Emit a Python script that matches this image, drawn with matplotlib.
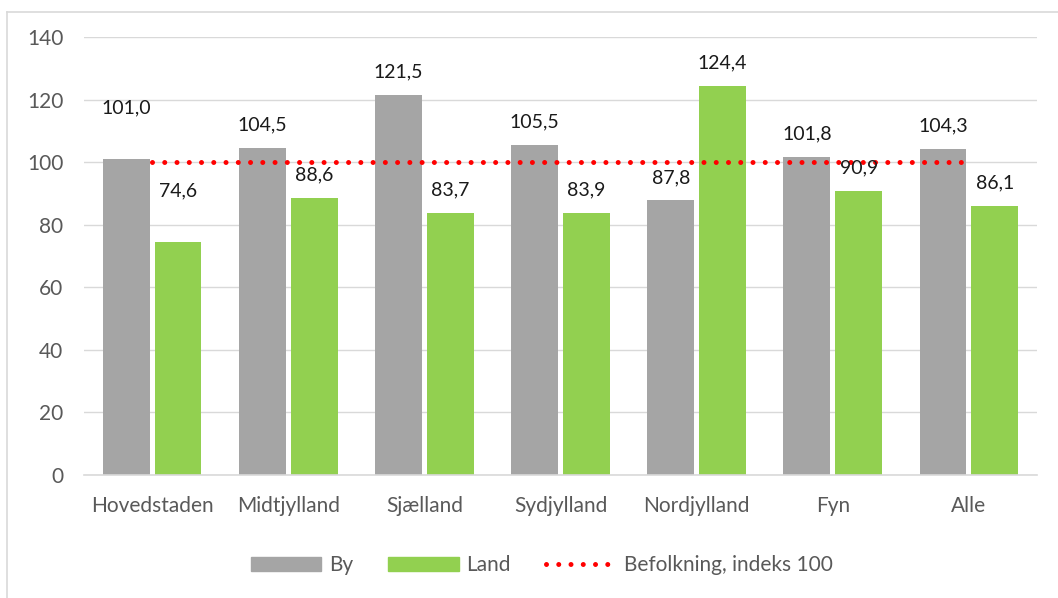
import matplotlib
matplotlib.use("Agg")
import matplotlib.pyplot as plt
from matplotlib.lines import Line2D
import numpy as np

categories = ["Hovedstaden", "Midtjylland", "Sjælland", "Sydjylland", "Nordjylland", "Fyn", "Alle"]
by_values = [101.0, 104.5, 121.5, 105.5, 87.8, 101.8, 104.3]
land_values = [74.6, 88.6, 83.7, 83.9, 124.4, 90.9, 86.1]
befolkning = [100] * len(categories)
yticks = [0, 20, 40, 60, 80, 100, 120, 140]

plt.rcParams['font.family'] = ['Lato', 'DejaVu Sans']

W, H = 1058, 598
fig = plt.figure(figsize=(W / 100, H / 100), dpi=100)
ax = fig.add_axes([84 / W, 1 - 475 / H, (1037 - 84) / W, (475 - 37) / H])

x = np.arange(len(categories))
bw = 0.345
gap = 0.018
gray = "#a5a5a5"
green = "#92d050"
dotstyle = (0, (0.001, 2.45))
ax.bar(x - bw / 2 - gap, by_values, bw, color=gray, label="By", zorder=2)
ax.bar(x + bw / 2 + gap, land_values, bw, color=green, label="Land", zorder=2)
ax.plot(x, befolkning, color="#ff0000", linestyle=dotstyle, linewidth=3.6,
        dash_capstyle="round", zorder=3, label="Befolkning, indeks 100")

def fmt(v):
    return f"{v:.1f}".replace(".", ",")

default_off = 16.5
special_off = {0: 36.5}
for i in range(len(categories)):
    off = special_off.get(i, default_off)
    for xx, v in ((x[i] - bw / 2 - gap, by_values[i]), (x[i] + bw / 2 + gap, land_values[i])):
        ax.annotate(fmt(v), (xx, v), xytext=(0, off), textcoords="offset points",
                    ha="center", va="center", fontsize=14, color="#1a1a1a", zorder=4)

ax.set_xlim(-0.5, len(categories) - 0.5)
ax.set_ylim(0, 140)
ax.set_yticks(yticks)
ax.set_yticklabels([str(t) for t in yticks])
ax.set_xticks(x)
ax.set_xticklabels(categories)
ax.yaxis.grid(True, color="#d9d9d9", linewidth=1, zorder=0)
ax.set_axisbelow(True)
for s in ["top", "right", "left"]:
    ax.spines[s].set_visible(False)
ax.spines["bottom"].set_color("#d9d9d9")
ax.spines["bottom"].set_linewidth(1.2)
ax.tick_params(axis="both", length=0, labelsize=15, labelcolor="#595959")
ax.tick_params(axis="y", pad=15)
ax.tick_params(axis="x", pad=15)

handles = [plt.Rectangle((0, 0), 1, 1, color=gray), plt.Rectangle((0, 0), 1, 1, color=green),
           Line2D([0], [0], color="#ff0000", linestyle=dotstyle, linewidth=3.6, dash_capstyle="round")]
leg = fig.legend(handles, ["By", "Land", "Befolkning, indeks 100"], loc="center",
                 bbox_to_anchor=(542 / W, 1 - 565 / H), ncol=3, frameon=False,
                 fontsize=15, handlelength=3.4, handleheight=0.68, columnspacing=1.7, handletextpad=0.35)
for t in leg.get_texts():
    t.set_color("#595959")

# border (left and top)
fig.add_artist(Line2D([7 / W, 7 / W], [0, 1 - 12 / H], transform=fig.transFigure, color="#d9d9d9", lw=1.2))
fig.add_artist(Line2D([7 / W, 1], [1 - 12 / H, 1 - 12 / H], transform=fig.transFigure, color="#d9d9d9", lw=1.2))

fig.savefig("out.png", dpi=100)
